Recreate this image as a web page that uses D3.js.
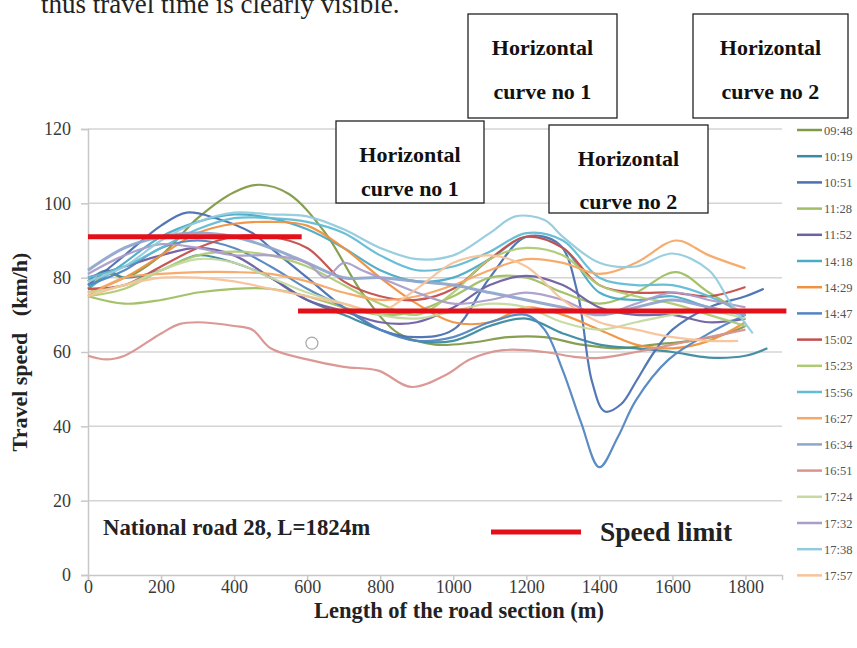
<!DOCTYPE html>
<html>
<head>
<meta charset="utf-8">
<script src="https://cdn.jsdelivr.net/npm/d3@7"></script>
<style>
  html, body { margin: 0; padding: 0; background: #fff; }
  svg { display: block; }
</style>
</head>
<body>
<svg id="chart" width="857" height="648"></svg>
<script>
// ---------------- DATA ----------------
const seriesNames = ["09:48","10:19","10:51","11:28","11:52","14:18","14:29","14:47","15:02",
                     "15:23","15:56","16:27","16:34","16:51","17:24","17:32","17:38","17:57"];
const seriesColors = ["#7f9a48","#3b8aa0","#4a70b0","#9fbf62","#6f5fa3","#4bacc6","#f0913f","#5286c2","#c44e4b",
                      "#aecb74","#62bcd4","#f6a866","#8fa6cc","#d9948f","#c5d9a0","#ab9dc9","#92cbdd","#f7c39a"];

const xTicks = [0,200,400,600,800,1000,1200,1400,1600,1800];
const yTicks = [0,20,40,60,80,100,120];

// distance (m) / speed (km/h) pairs for every run
const s0948 = [[0,77],[60,81],[100,80],[200,86],[300,96],[400,103],[470,105],[550,102.5],[650,92],[750,76],[850,65],[950,62],[1050,62.5],[1150,64],[1250,64],[1350,62],[1450,61],[1550,62],[1650,63],[1750,65],[1800,67]];
const s1019 = [[0,79],[50,82],[100,80],[200,82],[300,86],[400,84],[500,80],[600,74],[700,70],[800,66],[900,63],[1000,63],[1100,67],[1200,69],[1300,65],[1400,62],[1500,61],[1600,60],[1700,58.5],[1800,59],[1860,61]];
const s1051 = [[0,78],[100,86],[200,94],[270,97.5],[350,96],[450,92],[500,88],[600,80],[700,72],[800,66],[900,64],[1000,66],[1100,80],[1200,91],[1290,89],[1340,76],[1380,52],[1415,44],[1460,46],[1500,52],[1550,60],[1600,66],[1700,72],[1800,75],[1850,77]];
const s1128 = [[0,75],[100,73],[200,74],[300,76],[400,77],[500,77],[600,75],[700,72],[800,70],[900,71],[1000,75],[1100,80],[1200,80],[1300,76],[1400,73],[1500,76],[1610,81.5],[1700,76],[1800,70]];
const s1152 = [[0,80],[100,83],[200,86],[300,88],[400,86],[500,80],[600,74],[700,71],[800,68],[900,68],[1000,72],[1100,78],[1200,80.5],[1300,78],[1400,72],[1500,70],[1600,70],[1700,68],[1800,69]];
const s1418 = [[0,77],[100,84],[200,91],[300,95],[400,97],[500,96],[600,93],[700,88],[800,82],[900,79],[1000,80],[1100,85],[1200,91],[1300,88],[1400,76],[1500,74],[1600,75],[1700,72],[1800,70]];
const s1429 = [[0,76],[100,80],[200,86],[300,92],[400,94.5],[500,95],[600,94],[700,88],[800,80],[900,73],[1000,68],[1100,68],[1200,72],[1300,70],[1400,66],[1500,62],[1600,61],[1700,63],[1800,68]];
const s1447 = [[0,78],[100,82],[200,88],[300,90],[400,88],[500,83],[600,77],[700,72],[800,66],[900,63],[1000,64],[1100,68],[1200,70],[1250,66],[1300,55],[1350,41],[1400,29],[1450,37],[1500,47],[1590,58],[1700,65],[1800,70]];
const s1502 = [[0,77],[100,78],[200,83],[300,88],[400,91],[500,91],[600,88],[700,79],[800,75],[900,74],[1000,77],[1100,85],[1200,91],[1300,88],[1400,78],[1500,76],[1600,76],[1700,75],[1800,77.5]];
const s1523 = [[0,75],[100,77],[200,82],[300,86],[400,87],[500,86],[600,83],[700,78],[800,73],[900,70],[1000,76],[1100,85],[1200,88],[1300,86],[1400,78],[1500,75],[1600,73],[1700,70],[1800,67]];
const s1556 = [[0,80],[100,83],[200,88],[300,93],[400,96],[500,96],[600,95],[700,92],[800,86],[900,82],[1000,83],[1100,87],[1200,92],[1300,90],[1400,80],[1500,78],[1600,78],[1700,75],[1800,70]];
const s1627 = [[0,75],[100,80],[200,81],[300,81.5],[400,81.5],[500,81],[600,79],[700,76],[800,74],[900,75],[1000,78],[1100,82],[1200,85],[1300,84],[1400,81],[1500,84],[1610,90],[1700,86],[1800,82.5]];
const s1634 = [[0,82],[100,88],[200,91],[300,92],[400,91],[500,88],[600,84],[700,80],[800,80],[900,79],[1000,78],[1100,76],[1200,74],[1300,72],[1400,70],[1500,72],[1600,74],[1700,72],[1800,70]];
const s1651 = [[0,59],[50,58],[100,59],[200,65],[250,67.5],[300,68],[400,67],[450,66],[500,61],[600,58],[700,56],[795,55],[884,50.6],[983,54],[1045,58],[1136,60.5],[1250,60],[1338,58.6],[1400,58.4],[1500,60],[1600,62],[1700,64],[1800,66]];
const s1724 = [[0,76],[100,78],[200,82],[300,85],[400,84],[500,80],[600,76],[700,73],[800,70],[900,69],[1000,71],[1100,73],[1200,72],[1300,68],[1400,66],[1500,68],[1600,70],[1700,71],[1800,69]];
const s1732 = [[0,81],[100,86],[200,89],[300,88],[400,86],[500,86],[600,84],[650,80],[700,84],[750,82],[800,80],[900,76],[1000,73],[1100,74],[1200,76],[1300,74],[1400,70],[1500,73],[1600,76],[1700,74],[1800,72]];
const s1738 = [[0,79],[100,83],[200,90],[300,95],[400,97.5],[500,97],[600,96.5],[700,93],[800,88],[900,85],[1000,86],[1100,92],[1170,96.5],[1250,95.5],[1300,91],[1400,84],[1500,83],[1600,86.5],[1700,82],[1760,73],[1820,65]];
const s1757 = [[0,75],[100,78],[200,80],[300,80],[400,79],[500,77],[600,75],[700,73],[800,71],[900,77],[1000,84],[1100,86],[1200,83],[1300,74],[1400,68],[1500,66],[1600,64],[1700,63],[1780,63]];

const seriesData = [s0948,s1019,s1051,s1128,s1152,s1418,s1429,s1447,s1502,
                    s1523,s1556,s1627,s1634,s1651,s1724,s1732,s1738,s1757];

// speed limits: [from m, to m, km/h]
const speedLimits = [[0,585,91],[575,1912,71]];
const strayMarker = [613, 62.4];

// ---------------- DRAW ----------------
const svg = d3.select("#chart");
const x = d3.scaleLinear().domain([0,1900]).range([88,782]);
const y = d3.scaleLinear().domain([0,120]).range([575,129]);
const serif = "'Liberation Serif','Times New Roman',serif";

// top page text
svg.append("text").attr("x",41).attr("y",13)
  .attr("font-family",serif).attr("font-size",27).attr("fill","#222")
  .text("thus travel time is clearly visible.");

// grid
svg.append("g").selectAll("line").data(yTicks.filter(d=>d>0)).join("line")
  .attr("x1",x(0)).attr("x2",x(1900)).attr("y1",d=>y(d)).attr("y2",d=>y(d))
  .attr("stroke","#d4d4d4").attr("stroke-width",1.5);

// axes
const yAxis = d3.axisLeft(y).tickValues(yTicks).tickFormat(d3.format("d")).tickSize(7).tickPadding(10);
const gy = svg.append("g").attr("transform",`translate(${x(0)},0)`).call(yAxis);
const xAxis = d3.axisBottom(x).tickValues(xTicks).tickFormat(d3.format("d")).tickSize(5).tickPadding(0);
const gx = svg.append("g").attr("transform",`translate(0,${y(0)})`).call(xAxis);
[gx,gy].forEach(g=>{
  g.select(".domain").attr("stroke","#c8c8c8").attr("stroke-width",1.5);
  g.selectAll(".tick line").attr("stroke","#c8c8c8").attr("stroke-width",1.5);
  g.selectAll(".tick text").attr("font-family",serif).attr("font-size",18).attr("fill","#3a3a3a");
});

// series
const line = d3.line().x(d=>x(d[0])).y(d=>y(d[1])).curve(d3.curveCatmullRom.alpha(0.5));
svg.append("g").selectAll("path").data(seriesData).join("path")
  .attr("d",line).attr("fill","none")
  .attr("stroke",(d,i)=>seriesColors[i])
  .attr("stroke-width",(d,i)=> i===12 ? 3 : 2.2)
  .attr("stroke-opacity",0.95);

// speed limit lines
svg.append("g").selectAll("line").data(speedLimits).join("line")
  .attr("x1",d=>x(d[0])).attr("x2",d=>x(d[1]))
  .attr("y1",d=>y(d[2])).attr("y2",d=>y(d[2]))
  .attr("stroke","#e3101a").attr("stroke-width",5);

// stray marker
svg.append("circle").attr("cx",x(strayMarker[0])).attr("cy",y(strayMarker[1])).attr("r",6)
  .attr("fill","#fff").attr("stroke","#a8a8a8").attr("stroke-width",1.2);

// axis titles
svg.append("text").attr("transform",`translate(27,352) rotate(-90)`).attr("text-anchor","middle")
  .attr("font-family",serif).attr("font-weight","bold").attr("font-size",22).attr("fill","#222")
  .attr("xml:space","preserve").text("Travel speed   (km/h)");
svg.append("text").attr("x",459).attr("y",618).attr("text-anchor","middle")
  .attr("font-family",serif).attr("font-weight","bold").attr("font-size",22.5).attr("fill","#222")
  .text("Length of the road section (m)");

// inner labels
svg.append("text").attr("x",103).attr("y",535)
  .attr("font-family",serif).attr("font-weight","bold").attr("font-size",22.8).attr("fill","#222")
  .text("National road 28, L=1824m");
svg.append("line").attr("x1",491).attr("x2",581).attr("y1",532).attr("y2",532)
  .attr("stroke","#e3101a").attr("stroke-width",5);
svg.append("text").attr("x",600).attr("y",541)
  .attr("font-family",serif).attr("font-weight","bold").attr("font-size",27.5).attr("fill","#222")
  .text("Speed limit");

// legend
const lg = svg.append("g");
seriesNames.forEach((n,i)=>{
  const yy = 130 + i*26.2;
  lg.append("line").attr("x1",797).attr("x2",822).attr("y1",yy).attr("y2",yy)
    .attr("stroke",seriesColors[i]).attr("stroke-width",2.5);
  lg.append("text").attr("x",824).attr("y",yy+4.5)
    .attr("font-family",serif).attr("font-size",12.5).attr("fill","#555").text(n);
});

// annotation boxes
const boxes = [
  {x:336,y:121,w:148,h:82,l1:"Horizontal",l2:"curve no 1",b1:162,b2:196},
  {x:468,y:14,w:149,h:104,l1:"Horizontal",l2:"curve no 1",b1:55,b2:99},
  {x:549,y:125,w:159,h:88,l1:"Horizontal",l2:"curve no 2",b1:166,b2:209},
  {x:693,y:14,w:155,h:104,l1:"Horizontal",l2:"curve no 2",b1:55,b2:99}
];
const bg = svg.append("g");
boxes.forEach(b=>{
  bg.append("rect").attr("x",b.x).attr("y",b.y).attr("width",b.w).attr("height",b.h)
    .attr("fill","#fff").attr("stroke","#222").attr("stroke-width",1.3);
  [[b.l1,b.b1],[b.l2,b.b2]].forEach(([t,by])=>{
    bg.append("text").attr("x",b.x+b.w/2).attr("y",by).attr("text-anchor","middle")
      .attr("font-family",serif).attr("font-weight","bold").attr("font-size",22).attr("fill","#111").text(t);
  });
});
</script>
</body>
</html>
